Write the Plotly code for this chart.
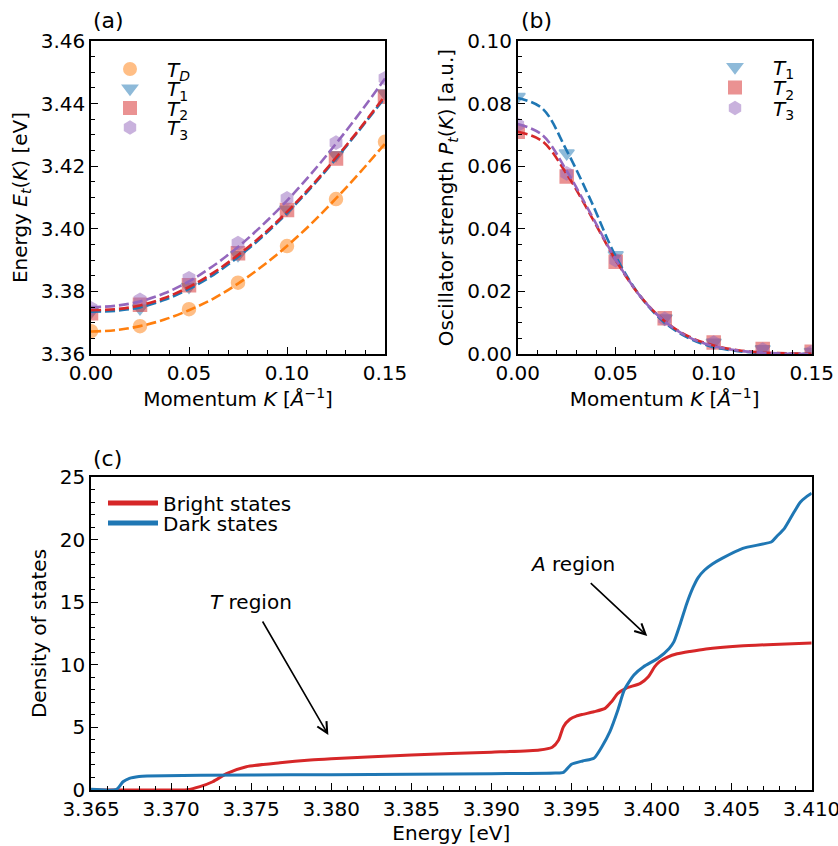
import plotly.graph_objects as go

# ---------------- data ----------------
K = [0.0, 0.025, 0.05, 0.075, 0.1, 0.125, 0.15]
E_TD = [3.3673, 3.3689, 3.3743, 3.3828, 3.3945, 3.4095, 3.4278]
E_T1 = [3.3735, 3.3746, 3.3815, 3.3916, 3.4062, 3.4236, 3.4433]
E_T2 = [3.3730, 3.3757, 3.3820, 3.3922, 3.4060, 3.4225, 3.4422]
E_T3 = [3.3746, 3.3773, 3.3842, 3.3954, 3.4097, 3.4275, 3.4481]

K_fit = [0.0, 0.0125, 0.025, 0.0375, 0.05, 0.0625, 0.075, 0.0875, 0.1, 0.1125, 0.125, 0.1375, 0.15]
E_TD_fit = [3.3672, 3.3676, 3.3689, 3.3710, 3.3740, 3.3777, 3.3825, 3.3881, 3.3945, 3.4017, 3.4097, 3.4182, 3.4272]
E_T1_fit = [3.3735, 3.3738, 3.3749, 3.3773, 3.3808, 3.3853, 3.3910, 3.3975, 3.4050, 3.4133, 3.4224, 3.4320, 3.4420]
E_T2_fit = [3.3740, 3.3743, 3.3755, 3.3779, 3.3814, 3.3860, 3.3916, 3.3980, 3.4054, 3.4137, 3.4227, 3.4323, 3.4425]
E_T3_fit = [3.3750, 3.3754, 3.3768, 3.3794, 3.3832, 3.3882, 3.3942, 3.4012, 3.4090, 3.4177, 3.4272, 3.4373, 3.4480]

P_T1 = [0.0822, 0.0641, 0.0316, 0.0114, 0.0037, 0.0016, 0.0007]
P_T2 = [0.0710, 0.0567, 0.0295, 0.0114, 0.0037, 0.0016, 0.0007]
P_T3 = [0.0732, 0.0577, 0.0300, 0.0112, 0.0036, 0.0014, 0.0006]

P_T1_fit = [0.0818, 0.0785, 0.0650, 0.0488, 0.0312, 0.0185, 0.0100, 0.0050, 0.0022, 0.0009, 0.0003, 0.0001, 0.0000]
P_T2_fit = [0.0710, 0.0680, 0.0575, 0.0440, 0.0300, 0.0185, 0.0105, 0.0055, 0.0027, 0.0012, 0.0005, 0.0002, 0.0001]
P_T3_fit = [0.0735, 0.0700, 0.0585, 0.0445, 0.0302, 0.0185, 0.0104, 0.0053, 0.0025, 0.0011, 0.0004, 0.0001, 0.0000]

E_bright = [3.3650, 3.3705, 3.3710, 3.3718, 3.3726, 3.3735, 3.3747, 3.3768, 3.3787, 3.3800, 3.3850,
            3.3900, 3.3930, 3.3938, 3.3942, 3.3945, 3.3949, 3.3953, 3.3957, 3.3964, 3.3971, 3.3975,
            3.3979, 3.3984, 3.3993, 3.3998, 3.4002, 3.4005, 3.4010, 3.4016, 3.4024, 3.4034, 3.4055,
            3.4076, 3.4100]
DOS_bright = [0.0, 0.0, 0.02, 0.27, 0.66, 1.33, 1.86, 2.18, 2.40, 2.50, 2.80,
              3.02, 3.20, 3.42, 4.00, 5.06, 5.65, 5.90, 6.04, 6.25, 6.52, 7.05,
              7.72, 8.12, 8.52, 9.05, 9.85, 10.25, 10.62, 10.88, 11.07, 11.27, 11.50,
              11.63, 11.75]

E_dark = [3.3650, 3.3666, 3.3670, 3.3674, 3.3680, 3.3685, 3.3750, 3.3800, 3.3850, 3.3900, 3.3940,
          3.3945, 3.3950, 3.3957, 3.3964, 3.3969, 3.3974, 3.3979, 3.3983, 3.3989, 3.3995, 3.4004,
          3.4011, 3.4014, 3.4018, 3.4022, 3.4026, 3.4029, 3.4033, 3.4038, 3.4044, 3.4057, 3.4075,
          3.4078, 3.4083, 3.4089, 3.4093, 3.4097, 3.4100]
DOS_dark = [0.05, 0.05, 0.66, 0.93, 1.08, 1.12, 1.20, 1.22, 1.25, 1.30, 1.35,
            1.41, 2.05, 2.32, 2.53, 3.46, 4.66, 6.39, 7.99, 9.19, 9.85, 10.52,
            11.31, 11.85, 13.30, 14.90, 16.20, 16.95, 17.55, 18.05, 18.50, 19.30, 19.83,
            20.23, 20.90, 22.20, 23.00, 23.45, 23.70]

C_OR, C_BL, C_RD, C_PU = "#ff7f0e", "#1f77b4", "#d62728", "#9467bd"
FONT = "DejaVu Sans"
FS = 20
W, H = 838, 846

fig = go.Figure()

def mk(x, y, color, symbol, name, xa, ya, legend):
    return go.Scatter(x=x, y=y, mode="markers", name=name, xaxis=xa, yaxis=ya,
                      legend=legend, showlegend=True,
                      marker=dict(symbol=symbol, size=13, color=color, opacity=0.5,
                                  line=dict(color=color, width=1.5)))

def fitline(x, y, color, xa, ya):
    return go.Scatter(x=x, y=y, mode="lines", xaxis=xa, yaxis=ya, showlegend=False,
                      line=dict(color=color, width=2.6, dash="10px,4px", shape="spline"),
                      hoverinfo="skip")

# panel (a)
fig.add_trace(mk(K, E_TD, C_OR, "circle", "<i>T</i><sub><i>D</i></sub>", "x", "y", "legend"))
fig.add_trace(mk(K, E_T1, C_BL, "triangle-down", "<i>T</i><sub>1</sub>", "x", "y", "legend2"))
fig.add_trace(mk(K, E_T2, C_RD, "square", "<i>T</i><sub>2</sub>", "x", "y", "legend3"))
fig.add_trace(mk(K, E_T3, C_PU, "hexagon", "<i>T</i><sub>3</sub>", "x", "y", "legend4"))
fig.add_trace(fitline(K_fit, E_TD_fit, C_OR, "x", "y"))
fig.add_trace(fitline(K_fit, E_T1_fit, C_BL, "x", "y"))
fig.add_trace(fitline(K_fit, E_T2_fit, C_RD, "x", "y"))
fig.add_trace(fitline(K_fit, E_T3_fit, C_PU, "x", "y"))

# panel (b)
fig.add_trace(mk(K, P_T1, C_BL, "triangle-down", "<i>T</i><sub>1</sub>", "x2", "y2", "legend5"))
fig.add_trace(mk(K, P_T2, C_RD, "square", "<i>T</i><sub>2</sub>", "x2", "y2", "legend6"))
fig.add_trace(mk(K, P_T3, C_PU, "hexagon", "<i>T</i><sub>3</sub>", "x2", "y2", "legend7"))
fig.add_trace(fitline(K_fit, P_T1_fit, C_BL, "x2", "y2"))
fig.add_trace(fitline(K_fit, P_T2_fit, C_RD, "x2", "y2"))
fig.add_trace(fitline(K_fit, P_T3_fit, C_PU, "x2", "y2"))

# panel (c)
fig.add_trace(go.Scatter(x=E_bright, y=DOS_bright, mode="lines", name="Bright states",
                         xaxis="x3", yaxis="y3", legend="legend8",
                         line=dict(color=C_RD, width=3, shape="spline", smoothing=0.6)))
fig.add_trace(go.Scatter(x=E_dark, y=DOS_dark, mode="lines", name="Dark states",
                         xaxis="x3", yaxis="y3", legend="legend9",
                         line=dict(color=C_BL, width=3, shape="spline", smoothing=0.6)))

def axis(domain, rng, dtick, minor, fmt, title, anchor, standoff):
    return dict(domain=domain, range=rng, dtick=dtick, tick0=rng[0], tickformat=fmt,
                showline=True, mirror=True, linecolor="black", linewidth=1.6,
                ticks="inside", ticklen=7, tickwidth=1.4, tickcolor="black",
                minor=dict(ticks="inside", dtick=minor, ticklen=4, tickwidth=1.1, tickcolor="black"),
                showgrid=False, zeroline=False, anchor=anchor, automargin=False,
                ticklabeloverflow="allow",
                tickfont=dict(family=FONT, size=FS, color="black"),
                title=dict(text=title, font=dict(family=FONT, size=FS, color="black"), standoff=standoff))

XA = [91 / W, 385 / W]
XB = [517.7 / W, 811.7 / W]
XC = [91 / W, 811.7 / W]
YAB = [1 - 354 / H, 1 - 41 / H]
YC = [1 - 790 / H, 1 - 477 / H]
mom = "Momentum <i>K</i> [<i>Å</i><sup>−1</sup>]"

def leg(px, py, iw):
    return dict(x=px / W, y=1 - py / H, xanchor="left", yanchor="middle",
                bgcolor="rgba(0,0,0,0)", borderwidth=0, itemwidth=iw,
                font=dict(family=FONT, size=FS, color="black"), itemsizing="constant")

fig.update_layout(
    width=W, height=H, margin=dict(l=0, r=0, t=0, b=0),
    paper_bgcolor="white", plot_bgcolor="white",
    font=dict(family=FONT, size=FS, color="black"),
    xaxis=axis(XA, [0, 0.15], 0.05, 0.01, ".2f", mom, "y", 6),
    yaxis=axis(YAB, [3.36, 3.46], 0.02, 0.005, ".2f", "Energy <i>E</i><sub><i>t</i></sub>(<i>K</i>) [eV]", "x", 8),
    xaxis2=axis(XB, [0, 0.15], 0.05, 0.01, ".2f", mom, "y2", 6),
    yaxis2=axis(YAB, [0, 0.10], 0.02, 0.005, ".2f", "Oscillator strength <i>P</i><sub><i>t</i></sub>(<i>K</i>) [a.u.]", "x2", 8),
    xaxis3=axis(XC, [3.365, 3.410], 0.005, 0.001, ".3f", "Energy [eV]", "y3", 6),
    yaxis3=axis(YC, [0, 25], 5, 1, "d", "Density of states", "x3", 8),
    legend=leg(93, 69, 64), legend2=leg(93, 88.5, 64), legend3=leg(93, 108, 64), legend4=leg(93, 127.5, 64),
    legend5=leg(697, 67, 66), legend6=leg(697, 87.5, 66), legend7=leg(697, 108, 66),
    legend8=leg(103, 503, 50), legend9=leg(103, 523, 50),
    showlegend=True,
)

# panel labels
for txt, px, py in [("(a)", 91, 20), ("(b)", 519, 20), ("(c)", 91, 458)]:
    fig.add_annotation(text=txt, xref="paper", yref="paper", x=px / W, y=1 - py / H,
                       xanchor="left", yanchor="middle", showarrow=False,
                       font=dict(family=FONT, size=22, color="black"))

# region annotations (panel c)
fig.add_annotation(text="<i>T</i> region", x=3.3750, y=15.0, xref="x3", yref="y3",
                   showarrow=False, font=dict(family=FONT, size=FS, color="black"))
fig.add_annotation(text="", x=3.37982, y=4.39, ax=3.37566, ay=13.58, xref="x3", yref="y3",
                   axref="x3", ayref="y3", showarrow=True, arrowhead=5, arrowsize=1.3,
                   arrowwidth=1.6, arrowcolor="black", standoff=0, startstandoff=0)
fig.add_annotation(text="<i>A</i> region", x=3.39506, y=18.05, xref="x3", yref="y3",
                   showarrow=False, font=dict(family=FONT, size=FS, color="black"))
fig.add_annotation(text="", x=3.39973, y=12.3, ax=3.39611, ay=16.64, xref="x3", yref="y3",
                   axref="x3", ayref="y3", showarrow=True, arrowhead=5, arrowsize=1.3,
                   arrowwidth=1.6, arrowcolor="black", standoff=0, startstandoff=0)

fig.write_html("out.html", config={"displayModeBar": False},
               post_script="document.body.style.margin='0';document.body.style.overflow='hidden';")
